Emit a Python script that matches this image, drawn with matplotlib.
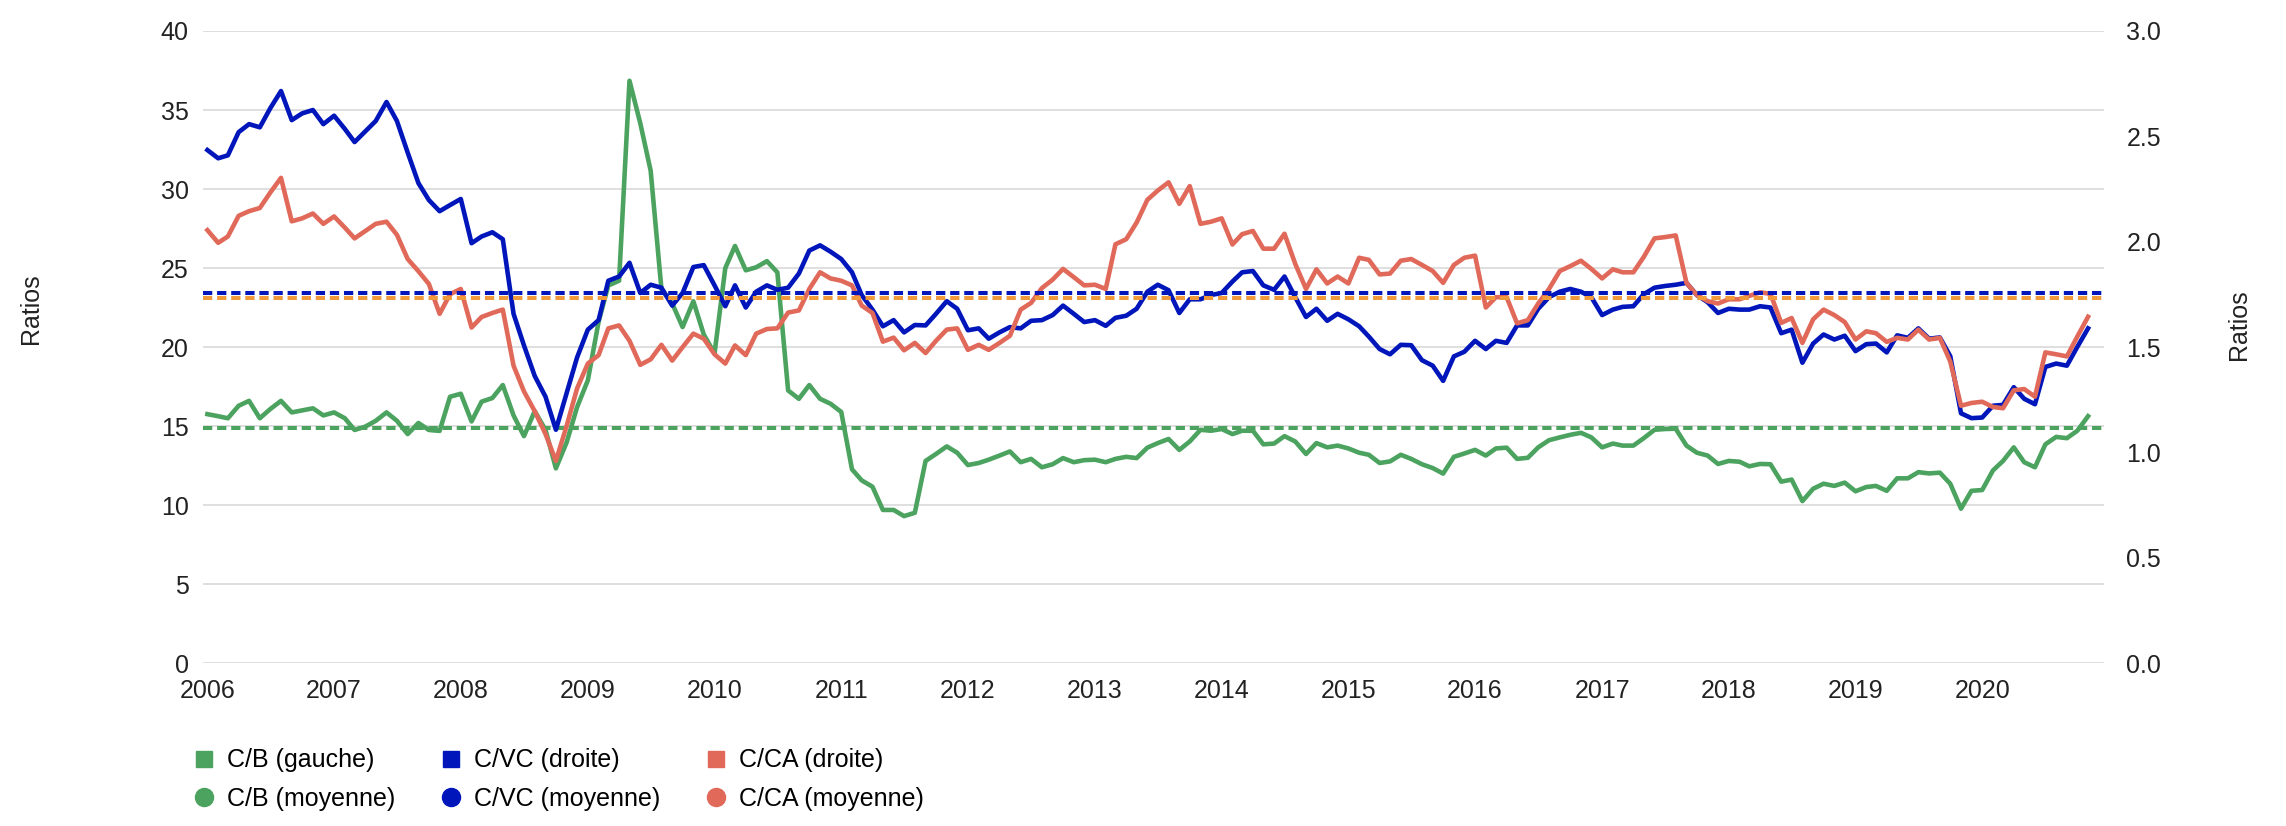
import numpy as np
import pandas as pd
import matplotlib
matplotlib.use("Agg")
import matplotlib.pyplot as plt
import matplotlib.dates as mdates
from matplotlib.lines import Line2D

plt.rcParams['font.family'] = ['Liberation Sans', 'DejaVu Sans']

# monthly values, Jan 2006 .. Nov 2020
dates = pd.date_range('2006-01-01', periods=179, freq='MS')

# C/B, left axis
cb = [15.76, 15.63, 15.5, 16.29, 16.6, 15.5, 16.08, 16.6, 15.87, 16.0, 16.13, 15.68, 15.87, 15.5, 14.76, 14.97,
      15.34, 15.87, 15.34, 14.5, 15.2, 14.76, 14.7, 16.86, 17.05, 15.3, 16.55, 16.78, 17.6, 15.68, 14.37,
      15.95, 14.77, 12.33, 13.98, 16.2, 17.9, 21.6, 23.9, 24.2, 36.85, 34.17, 31.16, 23.68, 22.76, 21.27, 22.9,
      20.8, 19.6, 25.0, 26.4, 24.86, 25.05, 25.44, 24.73, 17.26, 16.73, 17.6, 16.73,
      16.42, 15.9, 12.27, 11.57, 11.17, 9.7, 9.7, 9.31, 9.52, 12.8, 13.24, 13.72, 13.32, 12.54, 12.67, 12.88,
      13.14, 13.4, 12.72, 12.93, 12.4, 12.59, 12.98, 12.72, 12.85, 12.88, 12.72, 12.93, 13.06, 12.98,
      13.64, 13.93, 14.19, 13.5, 14.03, 14.77, 14.71, 14.82, 14.5, 14.71, 14.71, 13.85, 13.9, 14.37, 14.03,
      13.24, 13.93, 13.66, 13.77, 13.59, 13.32, 13.19, 12.67, 12.77, 13.19, 12.93, 12.59, 12.35,
      12.0, 13.06, 13.27, 13.5, 13.14, 13.59, 13.64, 12.93, 13.0, 13.66, 14.11, 14.29, 14.45, 14.58, 14.29,
      13.66, 13.9, 13.77, 13.77, 14.24, 14.77, 14.82, 14.84, 13.77, 13.32, 13.14, 12.61, 12.8, 12.75,
      12.46, 12.61, 12.59, 11.49, 11.62, 10.26, 11.04, 11.36, 11.22, 11.43, 10.88, 11.15, 11.22, 10.91, 11.7,
      11.7, 12.09, 12.01, 12.06, 11.36, 9.78, 10.91, 10.96, 12.2, 12.8, 13.66, 12.72, 12.4, 13.85, 14.32,
      14.24, 14.71, 15.63]

# C/VC, right axis
cvc = [2.435, 2.396, 2.41, 2.52, 2.558, 2.543, 2.633, 2.715, 2.577, 2.609, 2.625, 2.558, 2.598, 2.535, 2.473,
       2.524, 2.573, 2.663, 2.573, 2.423, 2.278, 2.198, 2.145, 2.174, 2.203, 1.993, 2.025, 2.045, 2.012, 1.658,
       1.508,
       1.363, 1.265, 1.108, 1.283, 1.451, 1.583, 1.628, 1.815, 1.835, 1.9, 1.757, 1.796, 1.782, 1.697, 1.757,
       1.88, 1.889, 1.793, 1.694, 1.793, 1.688, 1.763, 1.793, 1.772, 1.782, 1.849, 1.958, 1.983,
       1.953, 1.918, 1.855, 1.747, 1.678, 1.599, 1.628, 1.57, 1.605, 1.603, 1.658, 1.718, 1.682, 1.58, 1.589,
       1.54, 1.57, 1.595, 1.589, 1.625, 1.628, 1.652, 1.697, 1.658, 1.619, 1.628, 1.601, 1.639, 1.649, 1.682,
       1.763, 1.796, 1.77, 1.662, 1.727, 1.727, 1.747, 1.757, 1.811, 1.855, 1.861, 1.793, 1.772, 1.835, 1.737,
       1.643, 1.682, 1.625, 1.658, 1.632, 1.599, 1.55, 1.491, 1.466, 1.511, 1.509, 1.438, 1.412,
       1.34, 1.456, 1.478, 1.53, 1.491, 1.53, 1.52, 1.603, 1.603, 1.682, 1.737, 1.763, 1.776, 1.763, 1.737,
       1.652, 1.678, 1.691, 1.694, 1.751, 1.782, 1.79, 1.796, 1.805, 1.747, 1.713, 1.662, 1.682, 1.678,
       1.678, 1.694, 1.688, 1.566, 1.583, 1.426, 1.517, 1.56, 1.536, 1.554, 1.481, 1.514, 1.517, 1.475, 1.556,
       1.544, 1.589, 1.54, 1.546, 1.457, 1.186, 1.163, 1.166, 1.222, 1.226, 1.31, 1.255, 1.229, 1.406, 1.422,
       1.412, 1.501, 1.589]

# C/CA, right axis
cca = [2.055, 1.995, 2.025, 2.123, 2.145, 2.16, 2.233, 2.303, 2.097, 2.111, 2.134, 2.085, 2.12, 2.067, 2.016,
       2.051, 2.085, 2.095, 2.033, 1.918, 1.86, 1.8, 1.658, 1.751, 1.776, 1.593, 1.643, 1.662, 1.678, 1.412,
       1.29,
       1.196, 1.088, 0.96, 1.127, 1.304, 1.422, 1.462, 1.589, 1.603, 1.53, 1.416, 1.442, 1.511, 1.436, 1.5,
       1.564, 1.54, 1.466, 1.422, 1.508, 1.462, 1.564, 1.586, 1.589, 1.664, 1.674, 1.776, 1.855,
       1.826, 1.815, 1.793, 1.697, 1.662, 1.526, 1.545, 1.485, 1.52, 1.472, 1.53, 1.583, 1.589, 1.487, 1.511,
       1.487, 1.52, 1.554, 1.678, 1.71, 1.78, 1.82, 1.871, 1.832, 1.793, 1.796, 1.776, 1.988, 2.012, 2.091,
       2.199, 2.243, 2.282, 2.18, 2.264, 2.085, 2.095, 2.111, 1.987, 2.036, 2.051, 1.967, 1.967, 2.038, 1.895,
       1.776, 1.869, 1.802, 1.835, 1.802, 1.924, 1.914, 1.845, 1.849, 1.91, 1.918, 1.89, 1.861,
       1.805, 1.89, 1.924, 1.934, 1.688, 1.737, 1.737, 1.613, 1.628, 1.707, 1.776, 1.861, 1.884, 1.91, 1.871,
       1.826, 1.869, 1.855, 1.855, 1.928, 2.016, 2.022, 2.03, 1.805, 1.747, 1.718, 1.707, 1.727, 1.727,
       1.743, 1.76, 1.753, 1.615, 1.638, 1.52, 1.632, 1.678, 1.652, 1.619, 1.536, 1.575, 1.566, 1.525, 1.544,
       1.536, 1.583, 1.536, 1.544, 1.432, 1.222, 1.235, 1.241, 1.216, 1.21, 1.295, 1.301, 1.265, 1.475, 1.466,
       1.456, 1.55, 1.644]

# averages
cb_moy = 14.87
cvc_moy = 1.757
cca_moy = 1.733

assert len(cb) == len(cvc) == len(cca) == len(dates), (len(cb), len(cvc), len(cca))

green = '#4ba35f'
blue = '#0016bb'
red = '#e0695a'
orange = '#f09a3c'
grid_c = '#d9d9d9'

fig = plt.figure(figsize=(22.86, 8.26), dpi=100)
ax = fig.add_axes([0.0886, 0.197, 0.8318, 0.7655])
ax2 = ax.twinx()

ax.set_ylim(0, 40)
ax.set_yticks(np.arange(0, 41, 5))
ax2.set_ylim(0, 3)
ax2.set_yticks(np.arange(0, 3.01, 0.5))
ax2.set_yticklabels([f'{v:.1f}' for v in np.arange(0, 3.01, 0.5)])

ax.grid(axis='y', color=grid_c, lw=1.2)
ax.set_axisbelow(True)
for a in (ax, ax2):
    for s in a.spines.values():
        s.set_visible(False)
    a.tick_params(length=0, labelsize=18, colors='#222222')
ax.tick_params(axis='y', pad=10)
ax2.tick_params(axis='y', pad=16)
ax.tick_params(axis='x', pad=11)

lw = 3.3
dash = (0, (2.3, 1.2))
ax.plot(dates, cb, color=green, lw=lw)
ax.axhline(cb_moy, color=green, lw=2.9, ls=dash)
ax2.plot(dates, cvc, color=blue, lw=lw)
ax2.plot(dates, cca, color=red, lw=lw)
ax2.axhline(cvc_moy, color=blue, lw=2.9, ls=dash)
ax2.axhline(cca_moy, color=orange, lw=2.9, ls=dash)

ax.set_xlim(pd.Timestamp('2005-12-18'), pd.Timestamp('2020-12-17'))
ax.xaxis.set_major_locator(mdates.YearLocator())
ax.xaxis.set_major_formatter(mdates.DateFormatter('%Y'))

fig.text(0.0135, 0.626, 'Ratios', rotation=90, fontsize=18, ha='center', va='center', color='#222222')
fig.text(0.9795, 0.607, 'Ratios', rotation=90, fontsize=18, ha='center', va='center', color='#222222')

handles = [
    Line2D([], [], marker='s', ls='none', color=green, markersize=12),
    Line2D([], [], marker='o', ls='none', color=green, markersize=13),
    Line2D([], [], marker='s', ls='none', color=blue, markersize=12),
    Line2D([], [], marker='o', ls='none', color=blue, markersize=13),
    Line2D([], [], marker='s', ls='none', color=red, markersize=12),
    Line2D([], [], marker='o', ls='none', color=red, markersize=13),
]
labels = ['C/B (gauche)', 'C/B (moyenne)', 'C/VC (droite)', 'C/VC (moyenne)',
          'C/CA (droite)', 'C/CA (moyenne)']
fig.legend(handles, labels, ncol=3, loc='upper left', bbox_to_anchor=(0.0836, 0.094),
           frameon=False, fontsize=18, handlelength=1.0, handletextpad=0.45,
           columnspacing=1.7, labelspacing=0.57, borderpad=0, borderaxespad=0)

fig.savefig('out.png', dpi=100)
